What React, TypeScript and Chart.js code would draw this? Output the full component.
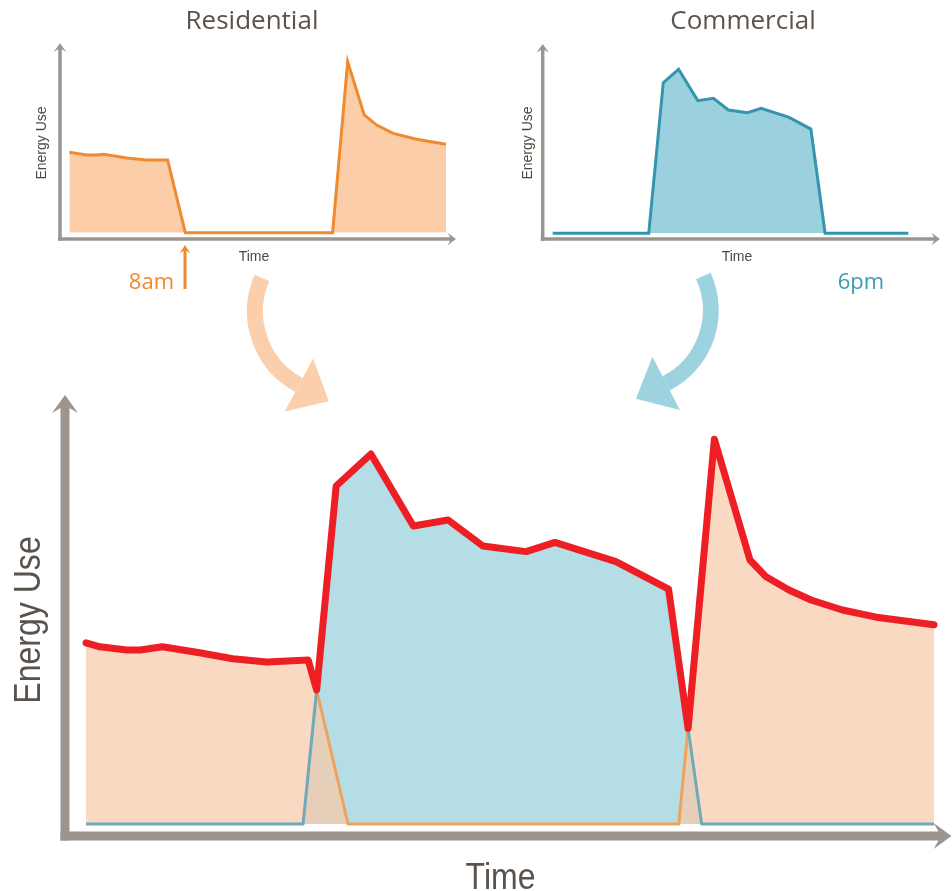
import React, { useEffect, useRef } from "react";
import { Chart, registerables } from "chart.js";

Chart.register(...registerables);

// ---------- Data (x: relative time 0-100, y: relative energy use 0-100) ----------
// Top-left: Residential
const resTopX = [0, 4.6, 7.3, 9.2, 15.2, 20.5, 26.1, 30.8, 69.9, 73.9, 78.3, 81.6, 86.0, 92.2, 100];
const resTopY = [44.7, 43.2, 43.2, 43.6, 41.5, 40.4, 40.4, 0, 0, 95, 65.4, 59.8, 55.2, 51.9, 49.1];

// Top-right: Commercial
const comTopX = [0, 27.0, 31.1, 35.4, 40.8, 45.2, 49.4, 54.8, 58.6, 66.5, 72.6, 76.6, 100];
const comTopY = [0, 0, 83.7, 91.1, 73.7, 75, 68.5, 67, 69.4, 64.4, 57.9, 0, 0];

// Bottom: combined
const resX = [0, 1.65, 4.8, 6.4, 9.0, 13.4, 17.3, 21.3, 26.2, 27.2, 30.9, 69.9, 71.0, 74.1, 78.3, 80.2, 82.9, 85.5, 89.2, 93.2, 100];
const resY = [45.3, 44.3, 43.5, 43.5, 44.3, 42.8, 41.3, 40.5, 41.0, 33.5, 0, 0, 23.9, 96.2, 66, 61.8, 58.5, 56, 53.5, 51.7, 49.8];

const comX = [0, 25.6, 27.2, 29.5, 33.6, 38.6, 42.7, 46.8, 51.9, 55.3, 62.5, 68.7, 71.0, 72.6, 100];
const comY = [0, 0, 33.5, 84.5, 92.5, 74.5, 76, 69.5, 68.1, 70.4, 65.6, 58.7, 23.9, 0, 0];

const overlapX = [25.6, 27.2, 30.9, 69.9, 71.0, 72.6];
const overlapY = [0, 33.5, 0, 0, 23.9, 0];

const totalX = [0, 1.65, 4.8, 6.4, 9.0, 13.4, 17.3, 21.3, 26.2, 27.2, 29.5, 33.6, 38.6, 42.7, 46.8, 51.9, 55.3, 62.5, 68.7, 71.0, 74.1, 78.3, 80.2, 82.9, 85.5, 89.2, 93.2, 100];
const totalY = [45.3, 44.3, 43.5, 43.5, 44.3, 42.8, 41.3, 40.5, 41.0, 33.5, 84.5, 92.5, 74.5, 76, 69.5, 68.1, 70.4, 65.6, 58.7, 23.9, 96.2, 66, 61.8, 58.5, 56, 53.5, 51.7, 49.8];

// Labels
const titles = ["Residential", "Commercial"];
const yLabel = "Energy Use";
const xLabel = "Time";
const markers = ["8am", "6pm"];

// ---------- Styles ----------
const W = 952;
const H = 891;
const axisGray = "#9c958f";
const titleColor = "#5b534c";
const labelColor = "#4f4842";
const resLine = "#f08a2e";
const resFill = "#fbcda8";
const comLine = "#3594ae";
const comFill = "#9bd1de";
const peach = "#f9d9c1";
const blue = "#b4dde5";
const tan = "#e6cfb8";
const thinOrange = "#eea25c";
const thinTeal = "#70aab9";
const red = "#ed1f24";
const arrowPeach = "#fbcfab";
const arrowBlue = "#9dd2df";
const sans = '"Liberation Sans", Arial, Helvetica, sans-serif';
const humanist = '"Open Sans", "Noto Sans", sans-serif';

const zip = (xs: number[], ys: number[]) => xs.map((x, i) => ({ x, y: ys[i] }));

// ---------- Drawing helpers ----------
// Filled arrow: shaft of half-width h, barbed head (half-width hw, length hl, notch nl)
function arrowLine(
  ctx: CanvasRenderingContext2D,
  x1: number, y1: number, x2: number, y2: number,
  h: number, hw: number, hl: number, nl: number, color: string
) {
  const L = Math.hypot(x2 - x1, y2 - y1);
  const ux = (x2 - x1) / L;
  const uy = (y2 - y1) / L;
  const px = -uy;
  const py = ux;
  const P = (back: number, lat: number): [number, number] => [
    x2 - ux * back + px * lat,
    y2 - uy * back + py * lat,
  ];
  const pts = [P(0, 0), P(hl, hw), P(nl, h), P(L, h), P(L, -h), P(nl, -h), P(hl, -hw)];
  ctx.save();
  ctx.fillStyle = color;
  ctx.beginPath();
  pts.forEach(([x, y], i) => (i ? ctx.lineTo(x, y) : ctx.moveTo(x, y)));
  ctx.closePath();
  ctx.fill();
  ctx.restore();
}

function label(
  ctx: CanvasRenderingContext2D, str: string, x: number, y: number,
  font: string, color: string, align: CanvasTextAlign = "center", rot = 0, sx = 1
) {
  ctx.save();
  ctx.translate(x, y);
  if (rot) ctx.rotate(rot);
  if (sx !== 1) ctx.scale(sx, 1);
  ctx.font = font;
  ctx.fillStyle = color;
  ctx.textAlign = align;
  ctx.textBaseline = "alphabetic";
  ctx.fillText(str, 0, 0);
  ctx.restore();
}

function curvedArrow(
  ctx: CanvasRenderingContext2D, cx: number, cy: number, r: number,
  a0deg: number, a1deg: number, ccw: boolean, width: number,
  headLen: number, headHalf: number, color: string
) {
  const a0 = (a0deg * Math.PI) / 180;
  const a1 = (a1deg * Math.PI) / 180;
  ctx.save();
  ctx.strokeStyle = color;
  ctx.fillStyle = color;
  ctx.lineWidth = width;
  ctx.lineCap = "butt";
  ctx.beginPath();
  ctx.arc(cx, cy, r, a0, a1, ccw);
  ctx.stroke();
  const ex = cx + r * Math.cos(a1);
  const ey = cy + r * Math.sin(a1);
  const dx = ccw ? Math.sin(a1) : -Math.sin(a1);
  const dy = ccw ? -Math.cos(a1) : Math.cos(a1);
  const px = -dy;
  const py = dx;
  ctx.beginPath();
  ctx.moveTo(ex + px * headHalf, ey + py * headHalf);
  ctx.lineTo(ex + dx * headLen, ey + dy * headLen);
  ctx.lineTo(ex - px * headHalf, ey - py * headHalf);
  ctx.closePath();
  ctx.fill();
  ctx.restore();
}

// ---------- Config builder ----------
function makeConfig(datasets: any[], padding: any, decor: (chart: any) => void): any {
  return {
    type: "line",
    data: { datasets },
    options: {
      responsive: false,
      animation: false,
      events: [],
      layout: { padding },
      plugins: {
        legend: { display: false },
        tooltip: { enabled: false },
        title: { display: false },
      },
      scales: {
        x: { type: "linear", min: 0, max: 100, display: false },
        y: { type: "linear", min: 0, max: 100, display: false },
      },
      elements: { point: { radius: 0 }, line: { tension: 0 } },
    },
    plugins: [{ id: "decor", afterDraw: decor }],
  };
}

function residentialConfig() {
  return makeConfig(
    [
      {
        data: zip(resTopX, resTopY),
        borderColor: resLine,
        backgroundColor: resFill,
        borderWidth: 3,
        fill: "origin",
        clip: false,
      },
    ],
    { left: 69.3, right: W - 446, top: 52.7, bottom: H - 232.7 },
    (chart) => {
      const ctx = chart.ctx as CanvasRenderingContext2D;
      const a = chart.chartArea;
      arrowLine(ctx, a.left - 9.3, a.bottom + 8, a.left - 9.3, a.top - 9.4, 1.75, 6.2, 8.5, 6, axisGray);
      arrowLine(ctx, a.left - 11.3, a.bottom + 6.3, a.right + 10, a.bottom + 6.3, 1.75, 6.2, 8.5, 6, axisGray);
      label(ctx, titles[0], 252, 29.3, `26px ${humanist}`, titleColor);
      label(ctx, yLabel, 46, 143, `14px ${sans}`, labelColor, "center", -Math.PI / 2);
      label(ctx, xLabel, 254, 260.7, `14px ${sans}`, labelColor);
      arrowLine(ctx, 185, 289, 185, 245, 1.5, 5.3, 8.3, 6, resLine);
      label(ctx, markers[0], 174, 289.3, `22px ${humanist}`, resLine, "right");
    }
  );
}

function commercialConfig() {
  return makeConfig(
    [
      {
        data: zip(comTopX, comTopY),
        borderColor: comLine,
        backgroundColor: comFill,
        borderWidth: 3,
        fill: "origin",
        clip: false,
      },
    ],
    { left: 552.7, right: W - 908.3, top: 53.3, bottom: H - 233.3 },
    (chart) => {
      const ctx = chart.ctx as CanvasRenderingContext2D;
      const a = chart.chartArea;
      arrowLine(ctx, a.left - 10, a.bottom + 7.4, a.left - 10, a.top - 9.3, 1.75, 6.2, 8.5, 6, axisGray);
      arrowLine(ctx, a.left - 12, a.bottom + 5.7, a.right + 31.7, a.bottom + 5.7, 1.75, 6.2, 8.5, 6, axisGray);
      label(ctx, titles[1], 743, 29.3, `26px ${humanist}`, titleColor);
      label(ctx, yLabel, 531.5, 143, `14px ${sans}`, labelColor, "center", -Math.PI / 2);
      label(ctx, xLabel, 737, 260.7, `14px ${sans}`, labelColor);
      label(ctx, markers[1], 837.7, 289, `22px ${humanist}`, "#3a9bb5", "left");
    }
  );
}

function combinedConfig() {
  return makeConfig(
    [
      { data: zip(resX, resY), borderWidth: 0, borderColor: "rgba(0,0,0,0)", backgroundColor: peach, fill: "origin", order: 6, clip: false },
      { data: zip(comX, comY), borderWidth: 0, borderColor: "rgba(0,0,0,0)", backgroundColor: blue, fill: "origin", order: 5, clip: false },
      { data: zip(overlapX, overlapY), borderWidth: 0, borderColor: "rgba(0,0,0,0)", backgroundColor: tan, fill: "origin", order: 4, clip: false },
      { data: zip(resX, resY), borderWidth: 3, borderColor: thinOrange, borderJoinStyle: "round", fill: false, order: 3, clip: false },
      { data: zip(comX, comY), borderWidth: 3, borderColor: thinTeal, borderJoinStyle: "round", fill: false, order: 2, clip: false },
      {
        data: zip(totalX, totalY),
        borderWidth: 7,
        borderColor: red,
        borderJoinStyle: "round",
        borderCapStyle: "round",
        fill: false,
        order: 1,
        clip: false,
      },
    ],
    { left: 86, right: W - 934, top: 424, bottom: H - 824 },
    (chart) => {
      const ctx = chart.ctx as CanvasRenderingContext2D;
      const a = chart.chartArea;
      arrowLine(ctx, a.left - 21, a.bottom + 16.5, a.left - 21, a.top - 29, 4.5, 13, 18, 13, axisGray);
      arrowLine(ctx, a.left - 25.5, a.bottom + 12, a.right + 17.5, a.bottom + 12, 4.5, 13, 18, 13, axisGray);
      label(ctx, yLabel, 39.5, 620, `36px ${sans}`, "#5a524c", "center", -Math.PI / 2, 0.89);
      label(ctx, xLabel, 500.5, 888.5, `36px ${sans}`, "#5a524c", "center", 0, 0.89);
      curvedArrow(ctx, 338.5, 311.5, 83.5, 203.6, 118.3, true, 16, 34, 30, arrowPeach);
      curvedArrow(ctx, 628.6, 310.2, 82.2, -24.6, 62.8, false, 16, 34, 30, arrowBlue);
    }
  );
}

export default function App() {
  const bottomRef = useRef<HTMLCanvasElement>(null);
  const resRef = useRef<HTMLCanvasElement>(null);
  const comRef = useRef<HTMLCanvasElement>(null);

  useEffect(() => {
    const charts: Chart[] = [];
    if (bottomRef.current) charts.push(new Chart(bottomRef.current, combinedConfig()));
    if (resRef.current) charts.push(new Chart(resRef.current, residentialConfig()));
    if (comRef.current) charts.push(new Chart(comRef.current, commercialConfig()));
    return () => charts.forEach((c) => c.destroy());
  }, []);

  const canvasStyle: React.CSSProperties = {
    position: "absolute",
    left: 0,
    top: 0,
    width: W,
    height: H,
  };

  return (
    <div style={{ position: "absolute", left: 0, top: 0, width: W, height: H, background: "#ffffff", overflow: "hidden" }}>
      <canvas ref={bottomRef} width={W} height={H} style={canvasStyle} />
      <canvas ref={resRef} width={W} height={H} style={canvasStyle} />
      <canvas ref={comRef} width={W} height={H} style={canvasStyle} />
    </div>
  );
}
